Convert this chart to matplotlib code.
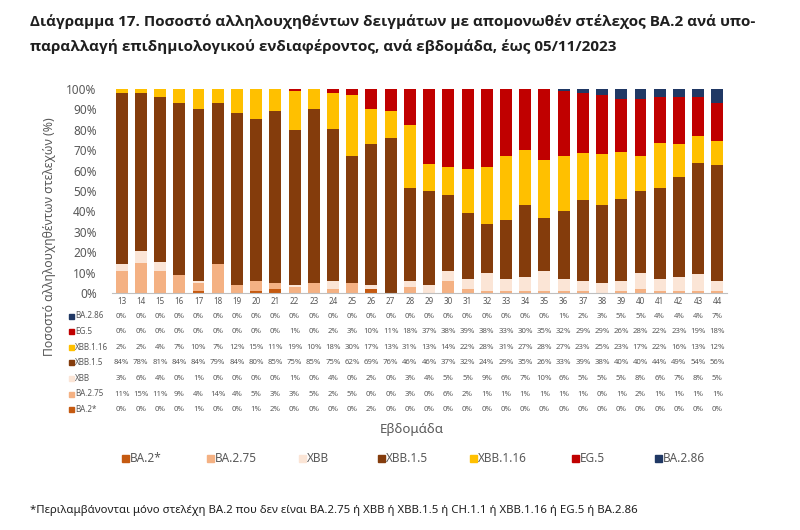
import matplotlib
matplotlib.use("Agg")
import matplotlib.pyplot as plt
import matplotlib.transforms as mtransforms
import numpy as np

plt.rcParams["font.family"] = ["Noto Sans", "DejaVu Sans"]

# ── Data (percent per week) ────────────────────────
weeks = list(range(13, 45))

ba2_star = [0, 0, 0, 0, 1, 0, 0, 1, 2, 0, 0, 0, 0, 2, 0, 0,
            0, 0, 0, 0, 0, 0, 0, 0, 0, 0, 0, 0, 0, 0, 0, 0]
ba2_75 = [11, 15, 11, 9, 4, 14, 4, 5, 3, 3, 5, 2, 5, 0, 0, 3,
          0, 6, 2, 1, 1, 1, 1, 1, 1, 0, 1, 2, 1, 1, 1, 1]
xbb = [3, 6, 4, 0, 1, 0, 0, 0, 0, 1, 0, 4, 0, 2, 0, 3,
       4, 5, 5, 9, 6, 7, 10, 6, 5, 5, 5, 8, 6, 7, 8, 5]
xbb_1_5 = [84, 78, 81, 84, 84, 79, 84, 80, 85, 75, 85, 75, 62, 69, 76, 46,
           46, 37, 32, 24, 29, 35, 26, 33, 39, 38, 40, 40, 44, 49, 54, 56]
xbb_1_16 = [2, 2, 4, 7, 10, 7, 12, 15, 11, 19, 10, 18, 30, 17, 13, 31,
            13, 14, 22, 28, 31, 27, 28, 27, 23, 25, 23, 17, 22, 16, 13, 12]
eg_5 = [0, 0, 0, 0, 0, 0, 0, 0, 0, 1, 0, 2, 3, 10, 11, 18,
        37, 38, 39, 38, 33, 30, 35, 32, 29, 29, 26, 28, 22, 23, 19, 18]
ba2_86 = [0, 0, 0, 0, 0, 0, 0, 0, 0, 0, 0, 0, 0, 0, 0, 0,
          0, 0, 0, 0, 0, 0, 0, 1, 2, 3, 5, 5, 4, 4, 4, 7]

labels = ["BA.2*", "BA.2.75", "XBB", "XBB.1.5", "XBB.1.16", "EG.5", "BA.2.86"]
series = [ba2_star, ba2_75, xbb, xbb_1_5, xbb_1_16, eg_5, ba2_86]
colors = ["#C55A11", "#F4B183", "#FBE5D6", "#843C0C", "#FFC000", "#C00000", "#203864"]

GRAY = "#595959"
W, H = 800, 530

fig = plt.figure(figsize=(W / 100, H / 100), dpi=100)


def fx(px):
    return px / W


def fy(py):
    return 1 - py / H


# ── Stacked 100% bars ─────────────────────────────────────────────────────────
ax = fig.add_axes([fx(112), fy(293), fx(727) - fx(112), fy(89) - fy(293)])
data = np.array(series, dtype=float)
data = data / data.sum(axis=0) * 100
x = np.arange(len(weeks))
bottom = np.zeros(len(weeks))
for vals, col, lab in zip(data, colors, labels):
    ax.bar(x, vals, 0.62, bottom=bottom, color=col, label=lab, lw=0)
    bottom += vals

ax.set_xlim(-0.5, len(weeks) - 0.5)
ax.set_ylim(0, 100)
ax.set_yticks(range(0, 101, 10))
ax.set_yticklabels([f"{v}%" for v in range(0, 101, 10)], fontsize=8.5, color=GRAY)
ax.set_xticks([])
ax.tick_params(axis="y", length=0, pad=11)
for s in ["top", "right", "left"]:
    ax.spines[s].set_visible(False)
ax.spines["bottom"].set_color("#BFBFBF")
ax.spines["bottom"].set_linewidth(0.8)

# ── Data table under the chart ────────────────────────────────────────────────
trans = mtransforms.blended_transform_factory(ax.transData, fig.transFigure)
for i, wk in enumerate(weeks):
    ax.text(i, fy(301), str(wk), transform=trans, ha="center", va="center",
            fontsize=5.8, color=GRAY)

row_y0, row_dy = 316, 15.6
for r, idx in enumerate(range(len(labels) - 1, -1, -1)):
    yy = fy(row_y0 + r * row_dy)
    fig.patches.append(plt.Rectangle((fx(69), yy - 2.5 / H), 5 / W, 5 / H,
                                     transform=fig.transFigure, color=colors[idx]))
    fig.text(fx(75), yy, labels[idx], ha="left", va="center", fontsize=5.8, color=GRAY)
    for i, v in enumerate(series[idx]):
        ax.text(i, yy, f"{v}%", transform=trans, ha="center", va="center",
                fontsize=5.6, color=GRAY)

# ── Axis titles ───────────────────────────────────────────────────────────────
fig.text(fx(50), fy(237), "Ποσοστό αλληλουχηθέντων στελεχών (%)", rotation=90,
         ha="center", va="center", fontsize=8.8, color=GRAY)
fig.text(fx(412), fy(430), "Εβδομάδα", ha="center", va="center",
         fontsize=9.5, color=GRAY)

# ── Legend ───────────────────────────────────────────────────────────────────
leg_x = [122, 207, 299, 378, 470, 572, 655]
for lx, lab, col in zip(leg_x, labels, colors):
    fig.patches.append(plt.Rectangle((fx(lx), fy(458) - 3.5 / H), 7 / W, 7 / H,
                                     transform=fig.transFigure, color=col))
    fig.text(fx(lx + 8), fy(458), lab, ha="left", va="center", fontsize=8.5, color=GRAY)

# ── Title and footnote ────────────────────────────────────────────────────────
title_font = dict(family=["Open Sans", "DejaVu Sans"], fontweight="bold",
                  fontsize=11, color="#1F1F1F", ha="left", va="center")
fig.text(fx(30), fy(22), "Διάγραμμα 17. Ποσοστό αλληλουχηθέντων δειγμάτων με απομονωθέν "
         "στέλεχος BA.2 ανά υπο-", **title_font)
fig.text(fx(30), fy(47), "παραλλαγή επιδημιολογικού ενδιαφέροντος, ανά εβδομάδα, έως 05/11/2023",
         **title_font)
fig.text(fx(30), fy(510), "*Περιλαμβάνονται μόνο στελέχη BA.2 που δεν είναι BA.2.75 ή XBB ή "
         "XBB.1.5 ή CH.1.1 ή XBB.1.16 ή EG.5 ή BA.2.86", ha="left", va="center",
         fontsize=8.2, color="#1F1F1F")

fig.savefig("out.png", dpi=100)
